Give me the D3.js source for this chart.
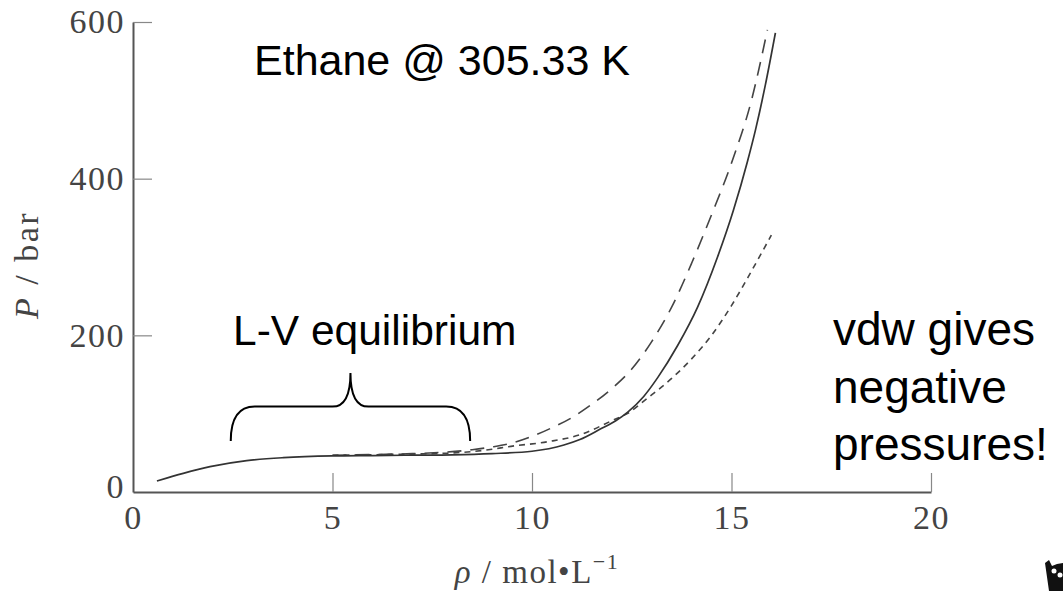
<!DOCTYPE html>
<html>
<head>
<meta charset="utf-8">
<script src="https://cdn.jsdelivr.net/npm/d3@7.9.0/dist/d3.min.js"></script>
<style>
  html, body { margin: 0; padding: 0; background: #fff; }
  svg { display: block; }
  .tick text { font-family: "Liberation Serif", "Times New Roman", serif; font-size: 34px; fill: #444; letter-spacing: 1.5px; }
  .axis-title { font-family: "Liberation Serif", "Times New Roman", serif; fill: #444; }
  .note { font-family: "Liberation Sans", Arial, sans-serif; fill: #000; }
</style>
</head>
<body>
<svg id="chart" width="1063" height="591"></svg>
<script>
// density (mol/L) and pressure (bar)
const expRho = [0.6, 1.26, 1.93, 2.85, 3.77, 5, 6, 7, 8, 9, 10, 10.8, 11.2, 11.7, 12.1, 12.4, 12.8, 13.15, 13.65, 14.15, 14.65, 15.05, 15.4, 15.6, 15.85, 16.1];
const expP   = [14, 23.8, 32.3, 40, 43.8, 46, 46.5, 47, 47.5, 49, 52, 60, 67, 80, 91, 102, 122, 146, 187, 236, 300, 360, 422, 462, 520, 586];

const longRho = [5, 6, 7, 8, 8.5, 9, 9.5, 10, 10.5, 11, 11.5, 12, 12.5, 13, 13.5, 14, 14.5, 15, 15.5, 15.9];
const longP   = [47, 47.8, 49, 51.5, 54, 57.5, 62.5, 71, 82, 95, 112, 132, 157, 192, 236, 292, 354, 420, 500, 590];

const shortRho = [5, 6, 7, 7.86, 9, 9.4, 10.4, 11.2, 12, 12.4, 12.9, 13.5, 14, 14.5, 15, 15.5, 16];
const shortP   = [47, 47.5, 48.5, 49.5, 54.5, 57.8, 64.2, 73, 91, 100.5, 120, 145, 170, 200, 238, 282, 328];

const xTicks = [0, 5, 10, 15, 20];
const yTicks = [0, 200, 400, 600];

// brace over the L-V region: [left, tip, right] in rho, [bottom, shoulder, tip] in P
const braceRho = [2.45, 5.45, 8.45];
const braceP = [65, 109, 152];

const svg = d3.select('#chart');
const x = d3.scaleLinear().domain([0, 20]).range([133, 931]);
const y = d3.scaleLinear().domain([0, 600]).range([492, 22]);

// axes
const xAxis = svg.append('g')
  .attr('transform', `translate(0,${y(0)})`)
  .call(d3.axisBottom(x).tickValues(xTicks).tickSize(-19).tickSizeOuter(0).tickPadding(13));
const yAxis = svg.append('g')
  .attr('transform', `translate(${x(0)},0)`)
  .call(d3.axisLeft(y).tickValues(yTicks).tickSize(-19).tickSizeOuter(0).tickPadding(8));

[xAxis, yAxis].forEach(g => {
  g.select('.domain').attr('stroke', '#555').attr('stroke-width', 2);
  g.selectAll('.tick line').attr('stroke', '#888').attr('stroke-width', 1.2);
});
xAxis.selectAll('.tick').filter(d => d === 0).select('line').remove();
yAxis.selectAll('.tick').filter(d => d === 0).select('line').remove();
yAxis.selectAll('.tick text').attr('dy', '0.32em');
yAxis.selectAll('.tick').filter(d => d === 0).select('text').attr('dy', '0.15em');

// axis titles
const xt = svg.append('text').attr('class', 'axis-title')
  .attr('x', (x(0) + x(20)) / 2 + 5).attr('y', 583)
  .attr('text-anchor', 'middle').attr('font-size', 33).attr('letter-spacing', 1.5);
xt.append('tspan').attr('font-style', 'italic').text('ρ');
xt.append('tspan').text(' / mol\u2022L');
xt.append('tspan').attr('font-size', 22).attr('dy', -14).text('\u22121');

const yt = svg.append('text').attr('class', 'axis-title')
  .attr('transform', 'translate(38,265) rotate(-90)')
  .attr('text-anchor', 'middle').attr('font-size', 34).attr('letter-spacing', 2.5);
yt.append('tspan').attr('font-style', 'italic').text('P');
yt.append('tspan').text(' / bar');

// curves
const line = d3.line().x(d => x(d[0])).y(d => y(d[1])).curve(d3.curveMonotoneX);

svg.append('path')
  .datum(d3.zip(longRho, longP))
  .attr('d', line)
  .attr('fill', 'none').attr('stroke', '#444').attr('stroke-width', 1.6)
  .attr('stroke-dasharray', '14 9');

svg.append('path')
  .datum(d3.zip(shortRho, shortP))
  .attr('d', line)
  .attr('fill', 'none').attr('stroke', '#444').attr('stroke-width', 1.6)
  .attr('stroke-dasharray', '6 5');

svg.append('path')
  .datum(d3.zip(expRho, expP))
  .attr('d', line)
  .attr('fill', 'none').attr('stroke', '#333').attr('stroke-width', 1.7);

// brace
const [bl, bt, br] = braceRho.map(x);
const [yb, ys, yt2] = braceP.map(y);
const brace = d3.path();
brace.moveTo(bl, yb);
brace.quadraticCurveTo(bl, ys, bl + 24, ys);
brace.lineTo(bt - 18, ys);
brace.quadraticCurveTo(bt, ys, bt, yt2);
brace.quadraticCurveTo(bt, ys, bt + 18, ys);
brace.lineTo(br - 24, ys);
brace.quadraticCurveTo(br, ys, br, yb);
svg.append('path').attr('d', brace.toString())
  .attr('fill', 'none').attr('stroke', '#000').attr('stroke-width', 2);

// annotations
svg.append('text').attr('class', 'note').attr('x', 254).attr('y', 75)
  .attr('font-size', 43).text('Ethane @ 305.33 K');
svg.append('text').attr('class', 'note').attr('x', 233).attr('y', 345)
  .attr('font-size', 42.5).text('L-V equilibrium');

const vdwLines = ['vdw gives', 'negative', 'pressures!'];
svg.append('text').attr('class', 'note').attr('font-size', 46)
  .selectAll('tspan').data(vdwLines).join('tspan')
  .attr('x', 833).attr('y', (d, i) => 345 + i * 57.5)
  .text(d => d);

// corner logo fragment
svg.append('path')
  .attr('d', 'M1045,563 L1049,560 L1052,566 L1057,564 L1063,563 L1063,591 L1049,591 L1047,577 Z')
  .attr('fill', '#111');
svg.append('circle').attr('cx', 1054).attr('cy', 571).attr('r', 2.5).attr('fill', '#fff');
svg.append('circle').attr('cx', 1060).attr('cy', 575).attr('r', 2.5).attr('fill', '#fff');
</script>
</body>
</html>
